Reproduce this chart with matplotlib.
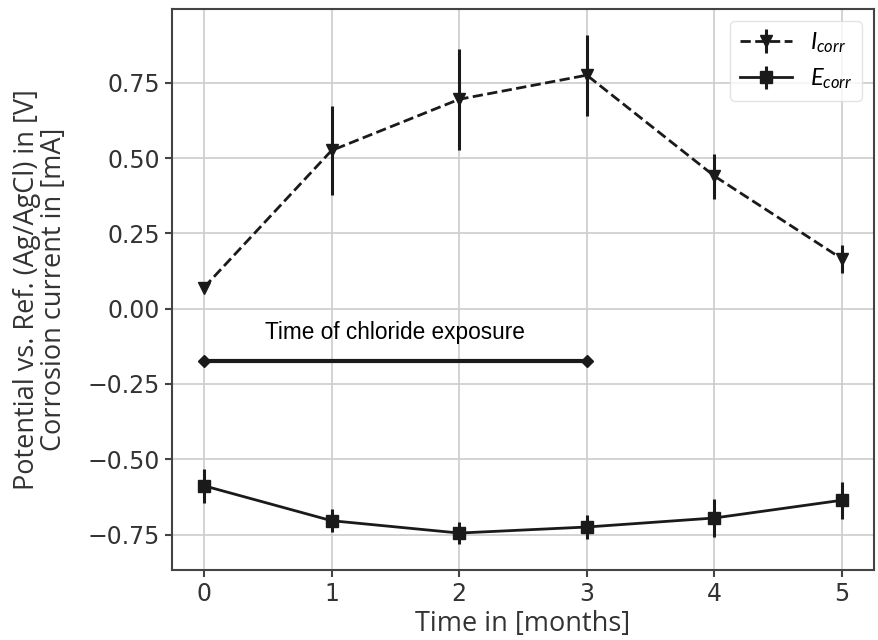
import matplotlib
matplotlib.use("Agg")
import matplotlib.pyplot as plt

months = [0, 1, 2, 3, 4, 5]
i_corr = [0.07, 0.525, 0.695, 0.775, 0.44, 0.165]
i_corr_err = [0.0, 0.148, 0.168, 0.135, 0.075, 0.046]
e_corr = [-0.588, -0.704, -0.745, -0.725, -0.695, -0.636]
e_corr_err = [0.057, 0.039, 0.038, 0.039, 0.063, 0.062]
exposure_span = [0, 3]
exposure_level = -0.173

plt.rcParams["mathtext.fontset"] = "custom"
plt.rcParams["mathtext.it"] = "Lato:italic"
plt.rcParams["mathtext.rm"] = "Lato"

fig = plt.figure(figsize=(8.79, 6.4), dpi=100)
ax = fig.add_axes([0.1957, 0.1094, 0.7986, 0.8765])

ink = "#1a1a1a"
ax.errorbar(months, i_corr, yerr=i_corr_err, color=ink, ls="--", lw=2,
            marker="v", ms=8, elinewidth=2.2, label=r"$I_{corr}$", zorder=3)
ax.errorbar(months, e_corr, yerr=e_corr_err, color=ink, ls="-", lw=2,
            marker="s", ms=8, elinewidth=2.2, label=r"$E_{corr}$", zorder=3)

# exposure window bracket
ax.plot(exposure_span, [exposure_level] * 2, color=ink, lw=3,
        marker="D", ms=6, zorder=3)
ax.text(1.5, -0.08, "Time of chloride exposure", ha="center", va="center",
        fontsize=16.3, family="Liberation Sans", color="black")

ax.set_xticks(months)
ax.grid(True, color="#cccccc", lw=1.2)
ax.set_axisbelow(True)
for s in ax.spines.values():
    s.set_color("#444444")
    s.set_linewidth(1.5)
ax.tick_params(colors="#444444", labelcolor="#333333", labelsize=17,
               length=5, width=1.5)

ax.set_xlabel("Time in [months]", fontsize=19.5, family="Open Sans",
              color="#333333", labelpad=3)
ax.set_ylabel("Potential vs. Ref. (Ag/AgCl) in [V]\nCorrosion current in [mA]",
              fontsize=19.5, family="Open Sans", color="#333333", labelpad=14,
              linespacing=0.95)

leg = ax.legend(loc="upper right", fontsize=17, fancybox=True, framealpha=0.8,
                handlelength=2.2)
leg.get_frame().set_edgecolor("#dddddd")

fig.savefig("out.png", dpi=100)
